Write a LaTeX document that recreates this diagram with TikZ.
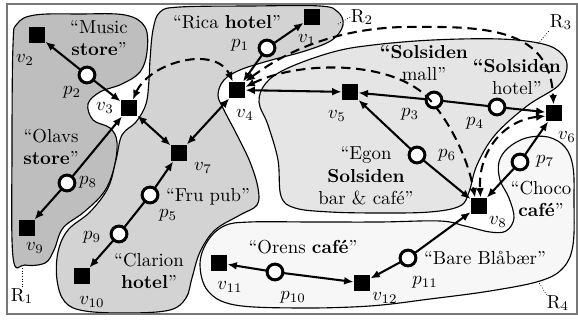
\documentclass[tikz,border=0pt]{standalone}
\usepackage{fontspec}
\usetikzlibrary{arrows.meta}
\definecolor{rone}{HTML}{BEBEBE}
\definecolor{rtwo}{HTML}{D3D3D3}
\definecolor{rthree}{HTML}{E5E5E5}
\definecolor{rfour}{HTML}{F7F7F7}
\definecolor{framecol}{HTML}{777777}
\tikzset{
  vnode/.style={rectangle, fill=black, minimum size=9pt, inner sep=0pt, outer sep=0pt},
  pnode/.style={circle, draw=black, fill=white, line width=1.6pt, minimum size=8.4pt, inner sep=0pt, outer sep=0pt},
  tip/.tip={Latex[length=5pt,width=4.2pt]},
  edge/.style={line width=1.1pt, -tip},
  bedge/.style={line width=1.1pt, tip-tip},
  pline/.style={line width=1.1pt},
  dedge/.style={line width=1.1pt, dash pattern=on 5pt off 3pt, tip-tip},
  region/.style={draw=black, line width=0.6pt},
  lbl/.style={inner sep=0pt},
  txt/.style={align=center, inner sep=0pt},
  leader/.style={densely dotted, line width=0.4pt}
}
\begin{document}
\begin{tikzpicture}[x=0.532pt, y=-0.532pt]
\useasboundingbox (0,0) rectangle (578,320);
% regions
\draw[region, fill=rone] plot[smooth cycle, tension=0.6] coordinates {
 (13,45) (17,24) (35,15) (80,14) (125,15) (145,27) (147,52) (140,72) (122,84) (100,92) (88,104) (93,120) (110,128) (117,142) (114,168) (104,192) (84,212) (63,228) (54,250) (45,263) (25,265) (13,257) (12,150)};
\draw[region, fill=rtwo] plot[smooth cycle, tension=0.6] coordinates {
 (150,60) (153,30) (160,12) (180,7) (250,6) (320,6) (338,12) (343,25) (332,40) (305,51) (268,61) (240,70) (224,80) (218,95) (224,110) (237,135) (250,162) (258,188) (257,205) (240,215) (215,230) (200,252) (192,278) (186,298) (170,310) (130,313) (85,311) (65,302) (57,280) (58,252) (68,230) (90,212) (108,188) (116,160) (122,135) (136,122) (146,104) (149,80)};
\draw[region, fill=rthree] plot[smooth cycle, tension=0.6] coordinates {
 (259,102) (266,83) (288,68) (333,52) (373,45) (433,40) (500,39) (543,44) (562,54) (567,68) (558,86) (527,106) (495,135) (477,165) (469,192) (460,206) (430,212) (380,213) (330,212) (295,208) (281,196) (278,160) (268,125)};
\draw[region, fill=rfour] plot[smooth cycle, tension=0.6] coordinates {
 (200,265) (207,242) (224,226) (250,222) (313,222) (380,222) (440,221) (465,226) (490,232) (506,231) (514,218) (509,198) (500,180) (499,162) (508,148) (526,138) (548,137) (565,147) (573,167) (574,200) (573,245) (563,268) (540,281) (490,291) (430,299) (370,306) (300,308) (235,305) (208,291)};
\draw[framecol, line width=0.8pt] (7,4) rectangle (577,314);
% region labels
\node[lbl] (R1) at (22,296) {R$_1$};
\node[lbl] (R2) at (362,17) {R$_2$};
\node[lbl] (R3) at (561,22) {R$_3$};
\node[lbl] (R4) at (558,303) {R$_4$};
\coordinate (c1) at (22,268);
\coordinate (c2) at (338,24);
\coordinate (c3) at (538,44);
\coordinate (c4) at (538,281);
\draw[leader] (c1) -- (R1.north);
\draw[leader] (c2) -- (R2.west);
\draw[leader] (c3) -- (R3.south west);
\draw[leader] (c4) -- (R4.north west);
% texts
\node[txt] (tmusic) at (99,38) {“Music\\\textbf{store}”};
\node[txt] (trica) at (227,22) {“Rica \textbf{hotel}”};
\node[txt] (tolavs) at (51,147) {“Olavs\\\textbf{store}”};
\node[txt] (tfru) at (208,197) {“Fru pub”};
\node[txt] (tclarion) at (149,271) {“Clarion\\\textbf{hotel}”};
\node[txt] (tmall) at (424,63) {\textbf{“Solsiden}\\mall”};
\node[txt] (tshotel) at (517,77) {\textbf{“Solsiden}\\hotel”};
\node[txt] (tegon) at (366,176) {“Egon\\\textbf{Solsiden}\\bar \& café”};
\node[txt] (tchoco) at (541,199) {“Choco\\\textbf{café}”};
\node[txt] (tbare) at (485,258) {“Bare Blåbær”};
\node[txt] (torens) at (303,247) {“Orens \textbf{café}”};
% vertices
\node[vnode] (v1) at (312,17) {};
\node[vnode] (v2) at (37,35) {};
\node[vnode] (v3) at (129,108) {};
\node[vnode] (v4) at (237,90) {};
\node[vnode] (v5) at (350,92) {};
\node[vnode] (v6) at (554,113) {};
\node[vnode] (v7) at (179,153) {};
\node[vnode] (v8) at (479,206) {};
\node[vnode] (v9) at (27,228) {};
\node[vnode] (v10) at (82,276) {};
\node[vnode] (v11) at (219,263) {};
\node[vnode] (v12) at (362,283) {};
\node[pnode] (p1) at (267,48) {};
\node[pnode] (p2) at (87,75) {};
\node[pnode] (p3) at (434,100) {};
\node[pnode] (p4) at (497,107) {};
\node[pnode] (p5) at (150,195) {};
\node[pnode] (p6) at (417,155) {};
\node[pnode] (p7) at (520,162) {};
\node[pnode] (p8) at (67,183) {};
\node[pnode] (p9) at (119,234) {};
\node[pnode] (p10) at (275,272) {};
\node[pnode] (p11) at (408,258) {};
% vertex labels
\node[lbl] (lv1) at (307,40) {$v_1$};
\node[lbl] (lv2) at (25,60) {$v_2$};
\node[lbl] (lv3) at (105,108) {$v_3$};
\node[lbl] (lv4) at (245,115) {$v_4$};
\node[lbl] (lv5) at (337,116) {$v_5$};
\node[lbl] (lv6) at (567,137) {$v_6$};
\node[lbl] (lv7) at (203,168) {$v_7$};
\node[lbl] (lv8) at (498,222) {$v_8$};
\node[lbl] (lv9) at (35,248) {$v_9$};
\node[lbl] (lv10) at (92,302) {$v_{10}$};
\node[lbl] (lv11) at (230,287) {$v_{11}$};
\node[lbl] (lv12) at (385,298) {$v_{12}$};
\node[lbl] (lp1) at (240,45) {$p_1$};
\node[lbl] (lp2) at (72,92) {$p_2$};
\node[lbl] (lp3) at (410,114) {$p_3$};
\node[lbl] (lp4) at (475,123) {$p_4$};
\node[lbl] (lp5) at (168,215) {$p_5$};
\node[lbl] (lp6) at (447,155) {$p_6$};
\node[lbl] (lp7) at (545,161) {$p_7$};
\node[lbl] (lp8) at (88,182) {$p_8$};
\node[lbl] (lp9) at (92,237) {$p_9$};
\node[lbl] (lp10) at (293,297) {$p_{10}$};
\node[lbl] (lp11) at (425,282) {$p_{11}$};
% solid edges
\draw[edge] (p1) -- (v1);
\draw[edge] (p1) -- (v4);
\draw[edge] (p2) -- (v2);
\draw[edge] (p2) -- (v3);
\draw[bedge] (v3) -- (v7);
\draw[bedge] (v4) -- (v7);
\draw[bedge] (v4) -- (v5);
\draw[edge] (p5) -- (v7);
\draw[pline] (p5) -- (p9);
\draw[edge] (p9) -- (v10);
\draw[edge] (p8) -- (v3);
\draw[edge] (p8) -- (v9);
\draw[edge] (p3) -- (v5);
\draw[pline] (p3) -- (p4);
\draw[edge] (p4) -- (v6);
\draw[edge] (p6) -- (v5);
\draw[edge] (p6) -- (v8);
\draw[edge] (p7) -- (v6);
\draw[edge] (p7) -- (v8);
\draw[edge] (p11) -- (v8);
\draw[edge] (p11) -- (v12);
\draw[edge] (p10) -- (v11);
\draw[edge] (p10) -- (v12);
% dashed edges
\draw[dedge] (v3) .. controls (150,62) and (215,45) .. (v4);
\draw[dedge] (v4.north east) .. controls (285,52) and (340,25) .. (420,27) .. controls (500,26) and (550,35) .. (v6);
\draw[dedge] (v4.20) .. controls (300,60) and (395,60) .. (430,100) .. controls (452,125) and (468,160) .. (v8.115);
\draw[dedge] (v6.200) .. controls (505,120) and (478,150) .. (v8.80);
\end{tikzpicture}
\end{document}
